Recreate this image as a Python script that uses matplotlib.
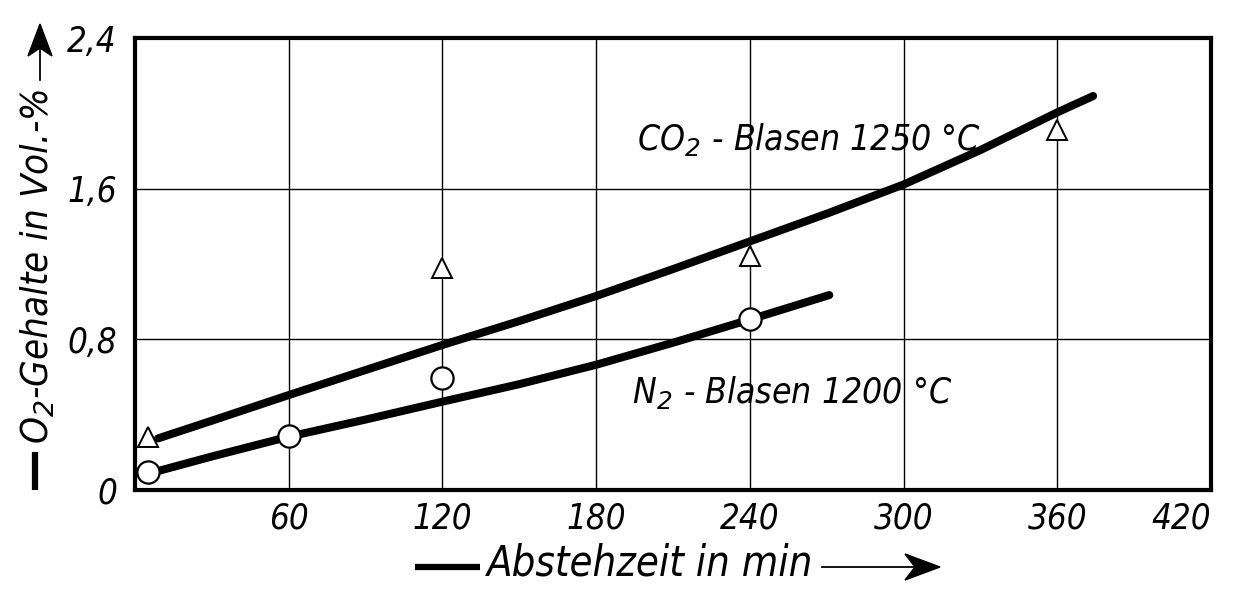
import matplotlib
matplotlib.use("Agg")
import matplotlib.pyplot as plt
from matplotlib import font_manager
from matplotlib.lines import Line2D
from matplotlib.patches import Polygon

# ---- data ----
co2_pts_x = [5, 120, 240, 360]
co2_pts_y = [0.283, 1.18, 1.24, 1.91]
n2_pts_x = [5, 60, 120, 240]
n2_pts_y = [0.097, 0.286, 0.593, 0.91]

co2_curve_x = [9, 30, 60, 90, 120, 150, 180, 210, 240, 270, 300, 330, 360, 374]
co2_curve_y = [0.274, 0.368, 0.504, 0.637, 0.77, 0.897, 1.030, 1.173, 1.320, 1.467,
               1.622, 1.805, 2.005, 2.092]
n2_curve_x = [8, 30, 60, 90, 120, 150, 180, 210, 240, 271]
n2_curve_y = [0.097, 0.178, 0.283, 0.374, 0.469, 0.562, 0.665, 0.782, 0.905, 1.035]

x_ticks = [60, 120, 180, 240, 300, 360, 420]
x_tick_labels = ["60", "120", "180", "240", "300", "360", "420"]
y_ticks = [0, 0.8, 1.6, 2.4]
y_tick_labels = ["0", "0,8", "1,6", "2,4"]

# ---- font selection ----
ttf = font_manager.fontManager.ttflist
names = {f.name for f in ttf}
stretch = "normal"
if any(f.name == "DejaVu Sans" and f.stretch == "condensed" for f in ttf):
    FONT = "DejaVu Sans"
    stretch = "condensed"
elif "Liberation Sans Narrow" in names:
    FONT = "Liberation Sans Narrow"
else:
    FONT = "DejaVu Sans"
plt.rcParams["font.family"] = [FONT, "DejaVu Sans"]
plt.rcParams["mathtext.fontset"] = "custom"
plt.rcParams["mathtext.rm"] = FONT + ":italic"
plt.rcParams["mathtext.it"] = FONT + ":italic"
TXT = dict(style="italic", stretch=stretch, color="black")

W, H = 1233, 591
fig = plt.figure(figsize=(W / 100, H / 100), dpi=100)
ax = fig.add_axes([135 / W, 1 - 490 / H, (1211 - 135) / W, (490 - 38) / H])

ax.set_xlim(0, 420)
ax.set_ylim(0, 2.4)

# grid
for xv in x_ticks[:-1]:
    ax.axvline(xv, color="black", lw=1.0, zorder=1)
for yv in y_ticks[1:-1]:
    ax.axhline(yv, color="black", lw=1.0, zorder=1)

# curves
ax.plot(co2_curve_x, co2_curve_y, color="black", lw=5.8, solid_capstyle="round",
        solid_joinstyle="round", zorder=3)
ax.plot(n2_curve_x, n2_curve_y, color="black", lw=5.8, solid_capstyle="round",
        solid_joinstyle="round", zorder=3)

# markers
ax.plot(co2_pts_x, co2_pts_y, linestyle="none", marker="^", ms=14, mfc="white",
        mec="black", mew=1.4, zorder=4)
ax.plot(n2_pts_x, n2_pts_y, linestyle="none", marker="o", ms=16, mfc="white",
        mec="black", mew=1.6, zorder=4)

# spines
for s in ax.spines.values():
    s.set_linewidth(3.0)
    s.set_color("black")

ax.set_xticks(x_ticks)
ax.set_xticklabels(x_tick_labels)
ax.set_yticks(y_ticks)
ax.set_yticklabels(y_tick_labels)
ax.tick_params(length=0, labelsize=25)
ax.tick_params(axis="x", pad=8)
ax.tick_params(axis="y", pad=13)
for lab in ax.get_xticklabels() + ax.get_yticklabels():
    lab.set_style("italic")
    lab.set_stretch(stretch)
ax.get_xticklabels()[-1].set_horizontalalignment("right")

# curve labels
ax.text(196, 1.805, "CO$_2$ - Blasen 1250 °C", fontsize=25.5, ha="left", va="baseline",
        zorder=5, **TXT)
ax.text(194, 0.462, "N$_2$ - Blasen 1200 °C", fontsize=25.5, ha="left", va="baseline",
        zorder=5, **TXT)


def fx(px):
    return px / W


def fy(py):
    return 1 - py / H


# x-axis label with arrows
fig.text(fx(650), fy(564), "Abstehzeit in min", fontsize=30, ha="center", va="center", **TXT)
fig.add_artist(Line2D([fx(415), fx(480)], [fy(567), fy(567)], color="black", lw=4.5,
                      solid_capstyle="butt"))
fig.add_artist(Line2D([fx(822), fx(915)], [fy(567), fy(567)], color="black", lw=1.3))
fig.add_artist(Polygon([[fx(940), fy(567)], [fx(905), fy(554)], [fx(915), fy(567)], [fx(905), fy(580)]],
                       closed=True, facecolor="black", edgecolor="black", transform=fig.transFigure))

# y-axis label with arrows
fig.text(fx(38), fy(266), "O$_2$-Gehalte in Vol.-%", fontsize=27.5, rotation=90,
         ha="center", va="center", **TXT)
fig.add_artist(Line2D([fx(35), fx(35)], [fy(490), fy(452)], color="black", lw=4.5,
                      solid_capstyle="butt"))
fig.add_artist(Line2D([fx(40), fx(40)], [fy(80), fy(50)], color="black", lw=1.3))
fig.add_artist(Polygon([[fx(40), fy(24)], [fx(28), fy(56)], [fx(40), fy(48)], [fx(52), fy(56)]],
                       closed=True, facecolor="black", edgecolor="black", transform=fig.transFigure))

fig.savefig("out.png", dpi=100, facecolor="white")
